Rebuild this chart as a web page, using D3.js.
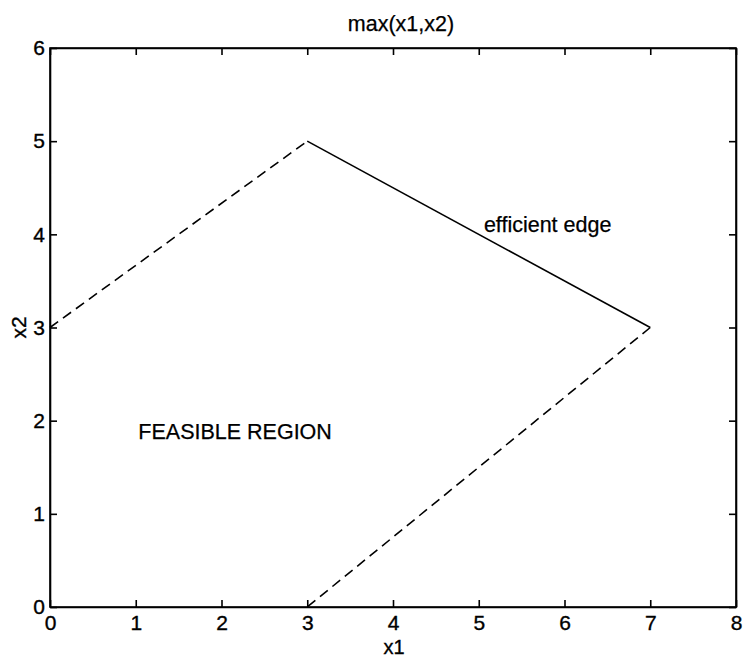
<!DOCTYPE html>
<html>
<head>
<meta charset="utf-8">
<script src="https://cdn.jsdelivr.net/npm/d3@7"></script>
<style>
  body { margin: 0; background: #fff; }
  text { font-family: "Liberation Sans", Arial, sans-serif; fill: #000; }
</style>
</head>
<body>
<div id="chart"></div>
<script>
// feasible region boundary
const dashedA = [[0, 3], [3, 5]];
const efficientEdge = [[3, 5], [7, 3]];
const dashedB = [[7, 3], [3, 0]];
const xTicks = [0, 1, 2, 3, 4, 5, 6, 7, 8];
const yTicks = [0, 1, 2, 3, 4, 5, 6];
const notes = [
    { text: "FEASIBLE REGION", x: 1.03, y: 1.8 },
    { text: "efficient edge", x: 5.06, y: 4.02 }
];

const width = 743, height = 658;
const margin = { top: 48, right: 7, bottom: 51, left: 50 };

const svg = d3.select("#chart").append("svg")
    .attr("width", width)
    .attr("height", height);

const x = d3.scaleLinear().domain([0, 8]).range([margin.left, width - margin.right]);
const y = d3.scaleLinear().domain([0, 6]).range([height - margin.bottom, margin.top]);

// inward ticks on all four sides
const tick = 7;
svg.append("g")
    .attr("transform", `translate(0,${y(0)})`)
    .call(d3.axisBottom(x).tickValues(xTicks).tickFormat(d3.format("d"))
        .tickSizeInner(-tick).tickSizeOuter(0).tickPadding(8));
svg.append("g")
    .attr("transform", `translate(${x(0)},0)`)
    .call(d3.axisLeft(y).tickValues(yTicks).tickFormat(d3.format("d"))
        .tickSizeInner(-tick).tickSizeOuter(0).tickPadding(5));
svg.append("g")
    .attr("transform", `translate(0,${y(6)})`)
    .call(d3.axisTop(x).tickValues(xTicks).tickSizeInner(-tick).tickSizeOuter(0).tickFormat(""));
svg.append("g")
    .attr("transform", `translate(${x(8)},0)`)
    .call(d3.axisRight(y).tickValues(yTicks).tickSizeInner(-tick).tickSizeOuter(0).tickFormat(""));

svg.selectAll(".domain, .tick line").attr("stroke", "#000").attr("stroke-width", 1.6);
svg.selectAll(".tick text")
    .attr("fill", "#000")
    .style("font-size", "21px")
    .attr("stroke", "#000").attr("stroke-width", 0.35);

// box outline
svg.append("rect")
    .attr("x", x(0)).attr("y", y(6))
    .attr("width", x(8) - x(0)).attr("height", y(0) - y(6))
    .attr("fill", "none").attr("stroke", "#000").attr("stroke-width", 1.6);

const line = d3.line().x(d => x(d[0])).y(d => y(d[1]));

svg.append("path").datum(dashedA)
    .attr("d", line).attr("fill", "none").attr("stroke", "#000")
    .attr("stroke-width", 1.6).attr("stroke-dasharray", "10,6");
svg.append("path").datum(efficientEdge)
    .attr("d", line).attr("fill", "none").attr("stroke", "#000")
    .attr("stroke-width", 1.6);
svg.append("path").datum(dashedB)
    .attr("d", line).attr("fill", "none").attr("stroke", "#000")
    .attr("stroke-width", 1.6).attr("stroke-dasharray", "10,6");

svg.selectAll(".note")
    .data(notes)
    .enter().append("text")
    .attr("class", "note")
    .attr("x", d => x(d.x))
    .attr("y", d => y(d.y))
    .style("font-size", "21.5px")
    .attr("stroke", "#000").attr("stroke-width", 0.25)
    .text(d => d.text);

// title and axis labels
svg.append("text")
    .attr("x", (x(0) + x(8)) / 2 + 8).attr("y", 31)
    .attr("text-anchor", "middle").style("font-size", "21.5px")
    .attr("stroke", "#000").attr("stroke-width", 0.25)
    .text("max(x1,x2)");
svg.append("text")
    .attr("x", (x(0) + x(8)) / 2 + 1).attr("y", 654)
    .attr("text-anchor", "middle").style("font-size", "20px")
    .attr("stroke", "#000").attr("stroke-width", 0.35)
    .text("x1");
svg.append("text")
    .attr("transform", `translate(26,${y(3)}) rotate(-90)`)
    .attr("text-anchor", "middle").style("font-size", "21px")
    .attr("stroke", "#000").attr("stroke-width", 0.35)
    .text("x2");
</script>
</body>
</html>
